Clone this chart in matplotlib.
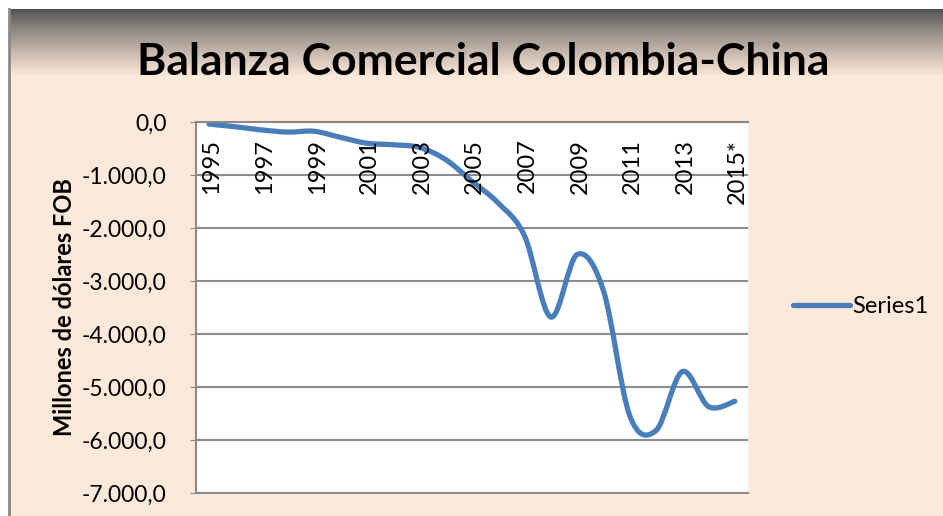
import numpy as np
import matplotlib
matplotlib.use("Agg")
import matplotlib.pyplot as plt
from matplotlib.path import Path
from matplotlib.patches import PathPatch
from matplotlib.lines import Line2D

plt.rcParams['font.family'] = ['Lato', 'DejaVu Sans']

# data (millones de dolares FOB)
years = ["1995", "1996", "1997", "1998", "1999", "2000", "2001", "2002", "2003",
         "2004", "2005", "2006", "2007", "2008", "2009", "2010", "2011", "2012",
         "2013", "2014", "2015*"]
balance = [-40, -90, -150, -190, -175, -290, -400, -430, -480,
           -710, -1120, -1530, -2150, -3680, -2500, -3180, -5540, -5820,
           -4710, -5370, -5270]
yticks = [0, -1000, -2000, -3000, -4000, -5000, -6000, -7000]

W, H = 943, 516
fig = plt.figure(figsize=(W / 100, H / 100), dpi=100)
fig.patch.set_facecolor("white")

# chart area background with the grey fade at the top
peach = np.array([0xFD, 0xE9, 0xD9]) / 255
dark = np.array([0x50, 0x50, 0x50]) / 255
bg = fig.add_axes([9 / W, 0, 1 - 9 / W, 1 - 9 / H])
bg.set_xlim(0, 1)
bg.set_ylim(0, H - 9)
bg.set_facecolor(peach)
t = np.linspace(0, 1, 68)[:, None]
grad = dark + (peach - dark) * t ** 0.85
bg.imshow(grad[:, None, :].repeat(2, axis=1), extent=[0, 1, H - 9 - 68, H - 9],
          aspect="auto", interpolation="nearest")
bg.set_xticks([])
bg.set_yticks([])
for s in ["top", "right", "bottom"]:
    bg.spines[s].set_visible(False)
bg.spines["left"].set_color("#8a8a8a")
bg.spines["left"].set_linewidth(2)

fig.text(483 / W, 1 - 62 / H, "Balanza Comercial Colombia-China",
         ha="center", va="center", fontsize=32, fontweight="bold", color="black")

ax = fig.add_axes([196 / W, 1 - 493 / H, (748 - 196) / W, (493 - 122) / H])
ax.set_facecolor("white")
ax.set_xlim(-0.5, len(years) - 0.5)
ax.set_ylim(-7000, 0)
ax.set_yticks(yticks)
ax.set_yticklabels([("%.1f" % v).replace(".", ",") if v == 0 else
                    "{:,.1f}".format(v).replace(",", "X").replace(".", ",").replace("X", ".")
                    for v in yticks], fontsize=16.5)
ax.tick_params(axis="y", length=4, color="#8a8a8a", pad=17)
ax.set_xticks([])
ax.grid(axis="y", color="#8c8c8c", linewidth=1.5)
ax.set_axisbelow(True)
for s in ["left", "top", "bottom"]:
    ax.spines[s].set_color("#8a8a8a")
    ax.spines[s].set_linewidth(1.5)
ax.spines["right"].set_visible(False)
ax.set_ylabel("Millones de dólares FOB", fontsize=17, fontweight="bold", labelpad=4)

# category labels hang below the axis line at 0
for i in range(0, len(years), 2):
    ax.annotate(years[i], xy=(i, 0), xytext=(2, -12), textcoords="offset points",
                rotation=90, ha="center", va="top", fontsize=17)

# smoothed line like Excel (bezier through every point)
xs = np.arange(len(balance), dtype=float)
ys = np.array(balance, dtype=float)
verts = [(xs[0], ys[0])]
codes = [Path.MOVETO]
n = len(xs)
for i in range(n - 1):
    p0 = np.array([xs[max(i - 1, 0)], ys[max(i - 1, 0)]])
    p1 = np.array([xs[i], ys[i]])
    p2 = np.array([xs[i + 1], ys[i + 1]])
    p3 = np.array([xs[min(i + 2, n - 1)], ys[min(i + 2, n - 1)]])
    c1 = p1 + (p2 - p0) / 6
    c2 = p2 - (p3 - p1) / 6
    verts += [tuple(c1), tuple(c2), tuple(p2)]
    codes += [Path.CURVE4] * 3
line_color = "#4A7EBB"
ax.add_patch(PathPatch(Path(verts, codes), fill=False, edgecolor=line_color,
                       linewidth=3.8, capstyle="round", joinstyle="round"))

handle = Line2D([], [], color=line_color, linewidth=3.8, solid_capstyle="round")
fig.legend([handle], ["Series1"], loc="center left",
           bbox_to_anchor=(772 / W, 1 - 307 / H), frameon=False, fontsize=17,
           handlelength=2.4, handletextpad=0.1)

fig.savefig("out.png", dpi=100)
